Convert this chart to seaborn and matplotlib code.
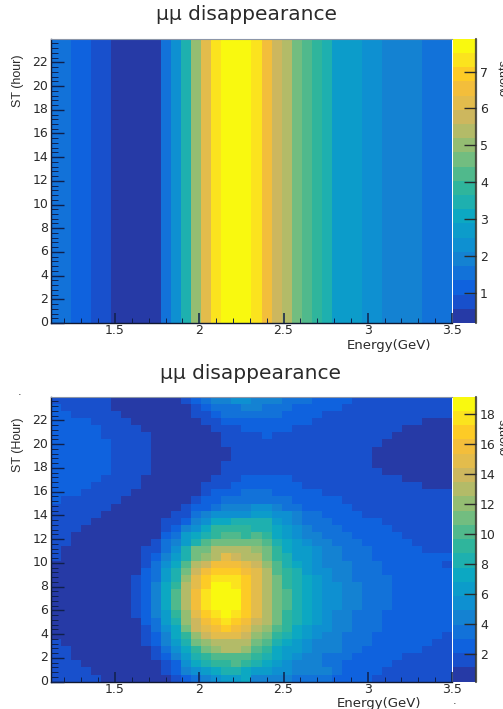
import numpy as np
import pandas as pd
import matplotlib
matplotlib.use("Agg")
import matplotlib.pyplot as plt
from matplotlib.colors import ListedColormap
from matplotlib.ticker import FixedLocator
import seaborn as sns

sns.set_theme(style="white")
plt.rcParams['font.family'] = ['DejaVu Sans']

# colour bands of the palette, bottom to top of the colour bar
band_colors = ['#263AA6', '#1850CC', '#0F62DE', '#1272D9', '#1482D2', '#0E90D1', '#0C9CCA',
               '#0CA8C2', '#1EB0AF', '#2FB59C', '#50B98C', '#72BD80', '#94BD72', '#B3BB68',
               '#CDB75E', '#E3BC4C', '#F3BE3B', '#FDCB26', '#FBE31E', '#F9F90F']

energy_min, energy_max = 1.12, 3.5
st_max = 24
energy_ticks = [1.5, 2, 2.5, 3, 3.5]
energy_tick_labels = ['1.5', '2', '2.5', '3', '3.5']
st_ticks = list(range(0, 24, 2))

# upper panel: does not depend on ST, one band per energy bin
top_range = (0.19, 7.89)
top_ticks = [1, 2, 3, 4, 5, 6, 7]
top_profile = [3, 3, 2, 2, 1, 1, 0, 0, 0, 0, 0, 3, 5, 8, 12, 15, 18, 19, 19, 19,
               18, 16, 14, 13, 11, 10, 9, 8, 6, 6, 6, 5, 5, 4, 4, 4, 4, 3, 3, 3]

# lower panel: band per bin, first row is the top of the plot (ST = 24)
bottom_range = (0.15, 19.17)
bottom_ticks = [2, 4, 6, 8, 10, 12, 14, 16, 18]
bottom_bands = [
    [1]*6 + [0]*7 + [1, 2, 3, 4, 4, 5, 5] + [4]*3 + [3]*3 + [2]*4 + [1]*10,
    [2] + [1]*5 + [0]*8 + [1, 2, 3, 3, 3, 4] + [4] + [3]*3 + [2]*5 + [1]*11,
    [2]*2 + [1]*5 + [0]*7 + [1, 1, 2, 3, 3, 3] + [3]*3 + [2]*4 + [1]*13,
    [2]*4 + [1]*4 + [0]*7 + [1, 1, 2, 2, 2] + [2]*6 + [1]*11 + [0]*3,
    [2]*5 + [1]*4 + [0]*7 + [1, 1, 1, 2] + [2]*4 + [1]*11 + [0]*5,
    [2]*5 + [1]*5 + [0]*7 + [1]*3 + [1, 2] + [1]*12 + [0]*6,
    [2]*6 + [1]*4 + [0]*7 + [1]*3 + [1]*13 + [0]*7,
    [2]*6 + [1]*4 + [0]*8 + [1]*2 + [1]*12 + [0]*8,
    [2]*6 + [1]*4 + [0]*8 + [1]*2 + [1]*12 + [0]*8,
    [2]*6 + [1]*4 + [0]*7 + [1]*3 + [1]*12 + [0]*8,
    [2]*6 + [1]*4 + [0]*7 + [1]*3 + [1]*13 + [0]*7,
    [2]*5 + [1]*4 + [0]*7 + [1, 1, 1, 2] + [2]*4 + [1]*11 + [0]*5,
    [2]*4 + [1]*5 + [0]*6 + [1, 1, 1, 2, 2] + [2]*5 + [1]*12 + [0]*3,
    [2]*3 + [1]*5 + [0]*7 + [1, 2, 2, 2, 3] + [3]*2 + [2]*5 + [1]*13,
    [2] + [1]*6 + [0]*7 + [1, 2, 2, 3, 3, 3] + [3]*4 + [2]*5 + [1]*11,
    [1]*6 + [0]*7 + [1, 2, 2, 3, 4, 4, 4] + [5, 5, 4, 3, 3] + [2]*5 + [1]*10,
    [1]*5 + [0]*7 + [1, 1, 3, 4, 5, 5, 5, 5] + [6, 6, 5, 5, 4, 3, 3] + [2]*4 + [1]*9,
    [1]*4 + [0]*7 + [1, 1, 2, 4, 5, 7, 7, 8, 8] + [8, 8, 6, 5, 4, 3, 3, 3] + [2]*5 + [1]*7,
    [1]*3 + [0]*8 + [1, 2, 4, 5, 7, 9, 9, 9, 9] + [8, 8, 7, 6, 5, 4, 3, 3, 3] + [2]*5 + [1]*6,
    [1]*2 + [0]*9 + [2, 3, 6, 7, 8, 9, 10, 10, 9] + [10, 9, 7, 6, 5, 4, 4, 3, 3, 3] + [2]*5 + [1]*5,
    [1]*2 + [0]*8 + [1, 3, 4, 6, 8, 10, 11, 11, 11, 11] + [11, 10, 8, 7, 6, 5, 4, 4, 3, 3, 3] + [2]*5 + [1]*4,
    [1] + [0]*8 + [1, 1, 3, 5, 8, 11, 11, 13, 13, 13, 13] + [12, 11, 9, 7, 6, 6, 5, 4, 4, 3, 3, 3] + [2]*5 + [1]*3,
    [1] + [0]*8 + [1, 2, 4, 6, 8, 11, 12, 13, 15, 14, 13] + [13, 11, 9, 8, 6, 6, 5, 4, 4, 3, 3, 3] + [2]*8,
    [0]*9 + [1, 3, 5, 7, 10, 13, 14, 16, 16, 16, 15] + [14, 12, 10, 8, 7, 6, 5, 4, 4, 4, 3, 3, 3] + [2]*6 + [1],
    [0]*9 + [2, 3, 6, 8, 11, 14, 16, 17, 17, 17, 16] + [15, 13, 10, 9, 8, 6, 5, 5, 4, 4, 3, 3, 3] + [2]*7,
    [0]*8 + [1, 2, 3, 6, 8, 12, 15, 17, 18, 18, 18, 17] + [15, 13, 11, 9, 8, 7, 6, 5, 4, 4, 3, 3, 3, 3] + [2]*6,
    [0]*8 + [1, 2, 4, 7, 9, 13, 15, 17, 19, 19, 18, 17] + [15, 13, 11, 9, 8, 7, 6, 5, 5, 4, 4, 3, 3, 3] + [2]*6,
    [0]*8 + [1, 2, 4, 7, 10, 13, 16, 18, 19, 19, 19, 17] + [15, 13, 11, 10, 8, 7, 6, 5, 5, 4, 4, 3, 3, 3] + [2]*6,
    [0]*8 + [1, 2, 4, 7, 10, 13, 16, 18, 19, 19, 19, 17] + [15, 13, 11, 10, 8, 7, 6, 5, 5, 4, 4, 3, 3, 3] + [2]*6,
    [0]*8 + [1, 2, 4, 7, 10, 13, 16, 18, 19, 19, 19, 17] + [15, 13, 11, 10, 8, 7, 6, 5, 5, 4, 4, 3, 3, 3] + [2]*6,
    [0]*8 + [1, 2, 4, 6, 9, 12, 15, 17, 18, 19, 18, 17] + [15, 13, 11, 9, 8, 7, 6, 5, 4, 4, 3, 3, 3] + [2]*7,
    [0]*9 + [2, 3, 6, 8, 12, 14, 16, 17, 18, 17, 16] + [14, 13, 11, 9, 8, 7, 6, 5, 4, 4, 3, 3, 3] + [2]*7,
    [0]*9 + [1, 3, 5, 7, 11, 14, 15, 16, 17, 16, 15] + [13, 12, 10, 9, 7, 6, 5, 5, 4, 4, 3, 3, 3] + [2]*7,
    [0]*9 + [1, 2, 4, 7, 9, 12, 14, 15, 15, 15, 14] + [12, 11, 9, 8, 7, 6, 5, 4, 4, 3, 3, 3] + [2]*7 + [1],
    [1] + [0]*8 + [1, 2, 4, 6, 8, 11, 12, 13, 13, 13, 13] + [11, 10, 8, 7, 6, 5, 4, 4, 4, 3, 3, 3] + [2]*6 + [1]*2,
    [1]*2 + [0]*8 + [1, 3, 5, 7, 9, 11, 12, 13, 13, 12] + [10, 9, 7, 6, 6, 5, 4, 4, 4, 3, 3] + [2]*6 + [1]*3,
    [1]*2 + [0]*8 + [1, 2, 4, 6, 8, 9, 10, 10, 10, 10] + [9, 8, 7, 6, 5, 4, 4, 3, 3, 3] + [2]*5 + [1]*5,
    [1]*3 + [0]*8 + [1, 2, 5, 7, 8, 9, 9, 10, 9] + [8, 7, 6, 5, 4, 4, 4, 3, 3] + [2]*5 + [1]*6,
    [1]*4 + [0]*7 + [1, 2, 4, 5, 6, 7, 8, 8, 7] + [6, 6, 5, 5, 4, 4, 4, 4, 3] + [2]*4 + [1]*7,
    [1]*5 + [0]*7 + [1, 2, 3, 4, 5, 6, 6, 7] + [4, 4, 4, 4, 3, 3, 3, 3, 2, 2, 2, 2] + [1]*8,
]

W, H = 503, 709
fig = plt.figure(figsize=(W / 100, H / 100), dpi=100, facecolor='white')
cmap = ListedColormap(band_colors)
ink = '#2a2a2a'


def add_panel(bands, zrange, zticks, top, bottom, title, title_x, title_y, ylabel, ylabel_y, xlabel_x, xlabel_y, zlabel_y):
    ax = fig.add_axes([51 / W, 1 - bottom / H, 401 / W, (bottom - top) / H])
    cax = fig.add_axes([453 / W, 1 - bottom / H, 23 / W, (bottom - top) / H])

    step = (zrange[1] - zrange[0]) / len(band_colors)
    counts = zrange[0] + (np.array(bands) + 0.5) * step
    nrows, ncols = counts.shape
    edges = np.linspace(energy_min, energy_max, ncols + 1)
    st_edges = np.linspace(st_max, 0, nrows + 1)
    df = pd.DataFrame(counts, index=st_edges[:-1], columns=edges[:-1])

    sns.heatmap(df, ax=ax, cbar_ax=cax, cmap=cmap, vmin=zrange[0], vmax=zrange[1],
                cbar_kws={'ticks': zticks})

    # heatmap works in bin units, so convert the physical ticks
    def to_col(e):
        return (np.asarray(e) - energy_min) / (energy_max - energy_min) * ncols

    def to_row(s):
        return (st_max - np.asarray(s)) / st_max * nrows

    ax.set_axisbelow(False)
    cax.set_axisbelow(False)
    ax.set_xticks(to_col(energy_ticks))
    ax.set_xticklabels(energy_tick_labels, rotation=0, fontsize=9, color=ink)
    ax.xaxis.set_minor_locator(FixedLocator(to_col(np.arange(1.2, 3.5, 0.1))))
    ax.set_yticks(to_row(st_ticks))
    ax.set_yticklabels([str(s) for s in st_ticks], rotation=0, fontsize=9, color=ink)
    ax.yaxis.set_minor_locator(FixedLocator(to_row(np.arange(0, 24, 0.4))))
    ax.tick_params(axis='x', which='major', direction='in', length=7, width=1.1, color='#10204a', pad=1, bottom=True)
    ax.tick_params(axis='x', which='minor', direction='in', length=3.5, width=0.7, color='#10204a', bottom=True)
    ax.tick_params(axis='y', which='major', direction='in', length=9, width=1.0, color='#10204a', pad=2, left=True)
    ax.tick_params(axis='y', which='minor', direction='in', length=5, width=0.7, color='#10204a', left=True)
    ax.set_xlabel('')
    ax.set_ylabel('')
    for side in ['left', 'bottom']:
        ax.spines[side].set_visible(True)
        ax.spines[side].set_color('#101830')
        ax.spines[side].set_linewidth(1.0)
    ax.spines['top'].set_visible(True)
    ax.spines['top'].set_color('#8c96a8')
    ax.spines['top'].set_linewidth(0.8)

    cbar = ax.collections[0].colorbar
    cbar.outline.set_visible(False)
    cax.tick_params(axis='y', which='major', direction='in', length=8.5, width=1.0, color=ink,
                    labelsize=9, labelcolor=ink, pad=3, right=True)
    cax.axvline(1, color='#3a3a30', lw=1.6, alpha=0.85, clip_on=False)

    fig.text(title_x / W, 1 - title_y / H, title, ha='center', va='center', fontsize=14.5, color=ink)
    fig.text(18 / W, 1 - ylabel_y / H, ylabel, rotation=90, ha='center', va='center',
             fontsize=9, color=ink, family='Liberation Sans')
    fig.text(xlabel_x / W, 1 - xlabel_y / H, 'Energy(GeV)', ha='right', va='center', fontsize=9.5, color=ink)
    fig.text(498 / W, 1 - zlabel_y / H, 'events', rotation=90, ha='left', va='center',
             fontsize=9, color=ink, family='Liberation Sans')


add_panel([top_profile] * 40, top_range, top_ticks, 38.7, 323,
          '\u03bc\u03bc disappearance', 247, 15, 'ST (hour)', 81, 431, 345, 78)
add_panel(bottom_bands, bottom_range, bottom_ticks, 396.7, 681.7,
          '\u03bc\u03bc disappearance', 251, 374, 'ST (Hour)', 445, 421, 703, 436)

fig.text(20 / W, 1 - 392 / H, '.', ha='center', va='center', fontsize=8, color=ink)
fig.text(455 / W, 1 - 701 / H, '.', ha='center', va='center', fontsize=8, color=ink)

fig.savefig('out.png', dpi=100)
